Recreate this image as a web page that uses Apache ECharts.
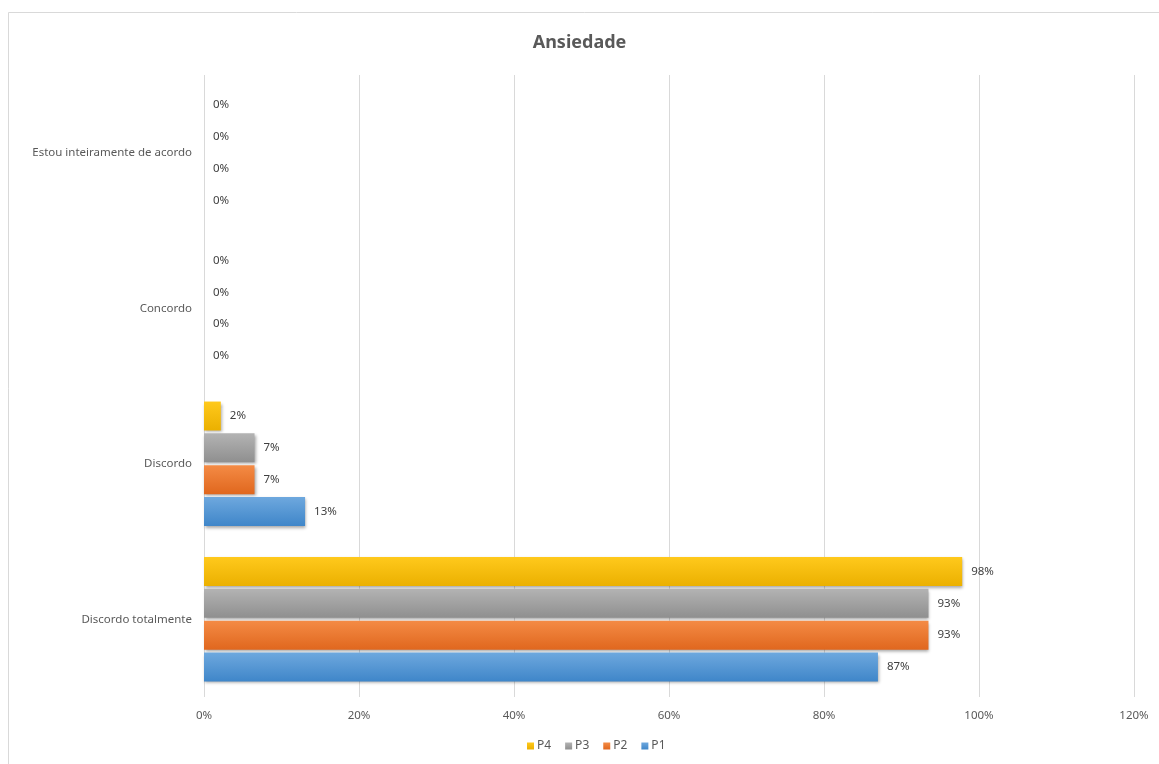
<!DOCTYPE html>
<html>
<head>
<meta charset="utf-8">
<script src="https://cdn.jsdelivr.net/npm/echarts@6/dist/echarts.min.js"></script>
<style>
  html, body { margin: 0; padding: 0; background: #fff; }
  #chart { width: 1159px; height: 764px; }
</style>
</head>
<body>
<div id="chart"></div>
<script>
// Response categories, bottom to top on the vertical axis
const categories = ['Discordo totalmente', 'Discordo', 'Concordo', 'Estou inteiramente de acordo'];

// Share of respondents per answer (percent)
const p1 = [86.96, 13.04, 0, 0];
const p2 = [93.48, 6.52, 0, 0];
const p3 = [93.48, 6.52, 0, 0];
const p4 = [97.83, 2.17, 0, 0];

const xTicks = [0, 20, 40, 60, 80, 100, 120];

const FONT = '"Noto Sans", "Open Sans", sans-serif';

function grad(top, bottom) {
  return new echarts.graphic.LinearGradient(0, 0, 0, 1, [
    { offset: 0, color: top },
    { offset: 1, color: bottom }
  ]);
}

function makeSeries(name, data, top, bottom) {
  return {
    name: name,
    type: 'bar',
    data: data,
    barGap: '10%',
    barCategoryGap: '20%',
    itemStyle: {
      color: grad(top, bottom),
      shadowColor: 'rgba(0,0,0,0.35)',
      shadowBlur: 3,
      shadowOffsetX: 1,
      shadowOffsetY: 2
    },
    label: {
      show: true,
      position: 'right',
      distance: 9,
      fontFamily: FONT,
      fontSize: 11.5,
      color: '#404040',
      formatter: p => Math.round(p.value) + '%'
    }
  };
}

const chart = echarts.init(document.getElementById('chart'), null, { renderer: 'canvas' });

// Series listed P4..P1 so that P1 sits lowest within each category band
chart.setOption({
  backgroundColor: '#ffffff',
  animation: false,
  title: {
    text: 'Ansiedade',
    left: 'center',
    top: 29,
    textStyle: { fontFamily: FONT, fontSize: 18, fontWeight: 'bold', color: '#595959' }
  },
  legend: {
    bottom: 7,
    left: 522,
    itemWidth: 7,
    itemHeight: 7,
    itemGap: 14,
    icon: 'rect',
    data: ['P4', 'P3', 'P2', 'P1'],
    textStyle: { fontFamily: FONT, fontSize: 12, color: '#595959', padding: [0, 0, 0, -2] }
  },
  grid: { left: 204, right: 25, top: 75, bottom: 67 },
  xAxis: {
    type: 'value',
    min: xTicks[0],
    max: xTicks[xTicks.length - 1],
    interval: 20,
    axisLine: { show: false },
    axisTick: { show: false },
    splitLine: { show: true, lineStyle: { color: '#d9d9d9', width: 1 } },
    axisLabel: {
      margin: 13,
      fontFamily: FONT,
      fontSize: 11.5,
      color: '#595959',
      formatter: v => v + '%'
    }
  },
  yAxis: {
    type: 'category',
    data: categories,
    axisLine: { show: false },
    axisTick: { show: false },
    axisLabel: { margin: 12, fontFamily: FONT, fontSize: 11.5, color: '#595959' }
  },
  series: [
    makeSeries('P4', p4, '#ffc91c', '#ebb000'),
    makeSeries('P3', p3, '#b3b3b3', '#8f8f8f'),
    makeSeries('P2', p2, '#f48b45', '#e0671e'),
    makeSeries('P1', p1, '#6ea8de', '#3f86c9')
  ],
  color: ['#ffc000', '#a5a5a5', '#ed7d31', '#5b9bd5'],
  graphic: [{
    type: 'rect',
    silent: true,
    shape: { x: 8.5, y: 12.5, width: 1200, height: 800 },
    style: { fill: 'none', stroke: '#d9d9d9', lineWidth: 1 }
  }]
});
</script>
</body>
</html>
